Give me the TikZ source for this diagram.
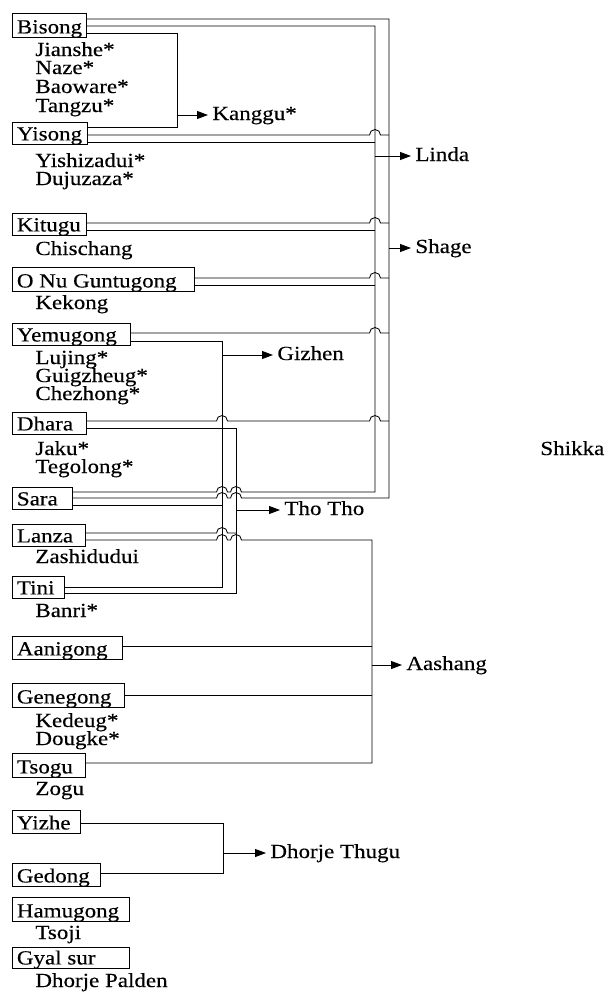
\documentclass[tikz,border=0pt]{standalone}
\usepackage{fontspec}
\setmainfont{Liberation Serif}[FakeStretch=1.15, FakeBold=0.35]
\usetikzlibrary{arrows.meta}
\newcommand\hp[2]{-- ({#1-5.5},#2) arc[start angle=180,end angle=0,radius=5.5pt]}
\newcommand\bx[5]{\node[boxst, text height=#3pt, minimum width=#4pt] (#1) at (12,#2) {\makebox[\dimexpr#4pt-9pt\relax][l]{#5}};}
\begin{document}
\begin{tikzpicture}[x=1pt,y=-1pt, line width=0.85pt,
  every node/.style={font=\fontsize{20}{20}\selectfont, inner sep=0pt},
  lbl/.style={anchor=base west, text height=13pt, text depth=3pt},
  rlbl/.style={anchor=base west, inner xsep=4pt, text height=13pt, text depth=3pt},
  boxst/.style={draw, anchor=north west, inner xsep=4.5pt, inner ysep=0pt, text depth=4pt},
  arr/.style={-{Triangle[length=11pt,width=8pt]}}]
\useasboundingbox (0,0) rectangle (606,993);

% boxes: name, top, text height, width, text
\bx{bisong}{13}{20}{74}{Bisong}
\bx{yisong}{122}{18}{75}{Yisong}
\bx{kitugu}{213}{18}{74}{Kitugu}
\bx{onu}{267}{20}{182}{O Nu Guntugong}
\bx{yemugong}{323}{18}{118}{Yemugong}
\bx{dhara}{412}{18}{74}{Dhara}
\bx{sara}{487}{18}{60}{Sara}
\bx{lanza}{524}{18}{73}{Lanza}
\bx{tini}{576}{18}{52}{Tini}
\bx{aanigong}{636}{19}{110}{Aanigong}
\bx{genegong}{683}{20}{112}{Genegong}
\bx{tsogu}{753}{20}{73}{Tsogu}
\bx{yizhe}{810}{19}{68}{Yizhe}
\bx{gedong}{863}{19}{88}{Gedong}
\bx{hamugong}{897}{20}{117}{Hamugong}
\bx{gyalsur}{947}{17}{117}{Gyal sur}

% sub labels
\node[lbl] (jianshe) at (35,56) {Jianshe*};
\node[lbl] (naze) at (35,74) {Naze*};
\node[lbl] (baoware) at (35,93) {Baoware*};
\node[lbl] (tangzu) at (35,112) {Tangzu*};
\node[lbl] (yishizadui) at (35,167) {Yishizadui*};
\node[lbl] (dujuzaza) at (35,185) {Dujuzaza*};
\node[lbl] (chischang) at (35,255) {Chischang};
\node[lbl] (kekong) at (35,309) {Kekong};
\node[lbl] (lujing) at (35,364) {Lujing*};
\node[lbl] (guigzheug) at (35,382) {Guigzheug*};
\node[lbl] (chezhong) at (35,400) {Chezhong*};
\node[lbl] (jaku) at (35,455) {Jaku*};
\node[lbl] (tegolong) at (35,473) {Tegolong*};
\node[lbl] (zashidudui) at (35,563) {Zashidudui};
\node[lbl] (banri) at (35,617) {Banri*};
\node[lbl] (kedeug) at (35,727) {Kedeug*};
\node[lbl] (dougke) at (35,745) {Dougke*};
\node[lbl] (zogu) at (35,795) {Zogu};
\node[lbl] (tsoji) at (35,939) {Tsoji};
\node[lbl] (dhorjepalden) at (35,987) {Dhorje Palden};

% right labels
\node[rlbl] (kanggu) at (208,120) {Kanggu*};
\node[rlbl] (linda) at (411,161) {Linda};
\node[rlbl] (shage) at (411,253) {Shage};
\node[rlbl] (gizhen) at (273,360) {Gizhen};
\node[rlbl] (shikka) at (536,455) {Shikka};
\node[rlbl] (thotho) at (280,515) {Tho Tho};
\node[rlbl] (aashang) at (402,670) {Aashang};
\node[rlbl] (dhorjethugu) at (266,858) {Dhorje Thugu};

% Kanggu bracket
\draw (bisong.east |- 0,33) -- (177,33) -- (177,127) -- (yisong.east |- 0,127);
\draw[arr] (177,115) -- (kanggu.west |- 0,115);

% outer (Shage) and inner (Linda) loops
\draw (sara.east |- 0,498) \hp{222}{498} \hp{236}{498} -- (389,498) -- (389,19) -- (bisong.east |- 0,19);
\draw (sara.east |- 0,492) \hp{222}{492} \hp{236}{492} -- (375,492) -- (375,26) -- (bisong.east |- 0,26);
\draw (yisong.east |- 0,135) \hp{375}{135} -- (389,135);
\draw (yisong.east |- 0,142) -- (375,142);
\draw (kitugu.east |- 0,223) \hp{375}{223} -- (389,223);
\draw (kitugu.east |- 0,230) -- (375,230);
\draw (onu.east |- 0,278) \hp{375}{278} -- (389,278);
\draw (onu.east |- 0,285) -- (375,285);
\draw (yemugong.east |- 0,333) \hp{375}{333} -- (389,333);
\draw (dhara.east |- 0,421) \hp{222}{421} \hp{375}{421} -- (389,421);
\draw[arr] (375,156) -- (linda.west |- 0,156);
\draw[arr] (389,248) -- (shage.west |- 0,248);

% Gizhen
\draw (yemugong.east |- 0,341) -- (222,341) -- (222,587) -- (tini.east |- 0,587);
\draw (sara.east |- 0,505) -- (222,505);
\draw[arr] (222,355) -- (gizhen.west |- 0,355);

% Tho Tho
\draw (dhara.east |- 0,428) -- (236,428) -- (236,593) -- (tini.east |- 0,593);
\draw (lanza.east |- 0,533) \hp{222}{533} -- (236,533);
\draw[arr] (236,510) -- (thotho.west |- 0,510);

% Aashang
\draw (lanza.east |- 0,540) \hp{222}{540} \hp{236}{540} -- (372,540) -- (372,763) -- (tsogu.east |- 0,763);
\draw (aanigong.east |- 0,646) -- (372,646);
\draw (genegong.east |- 0,695) -- (372,695);
\draw[arr] (372,665) -- (aashang.west |- 0,665);

% Dhorje Thugu
\draw (yizhe.east |- 0,823) -- (223,823) -- (223,873) -- (gedong.east |- 0,873);
\draw[arr] (223,853) -- (dhorjethugu.west |- 0,853);
\end{tikzpicture}
\end{document}
